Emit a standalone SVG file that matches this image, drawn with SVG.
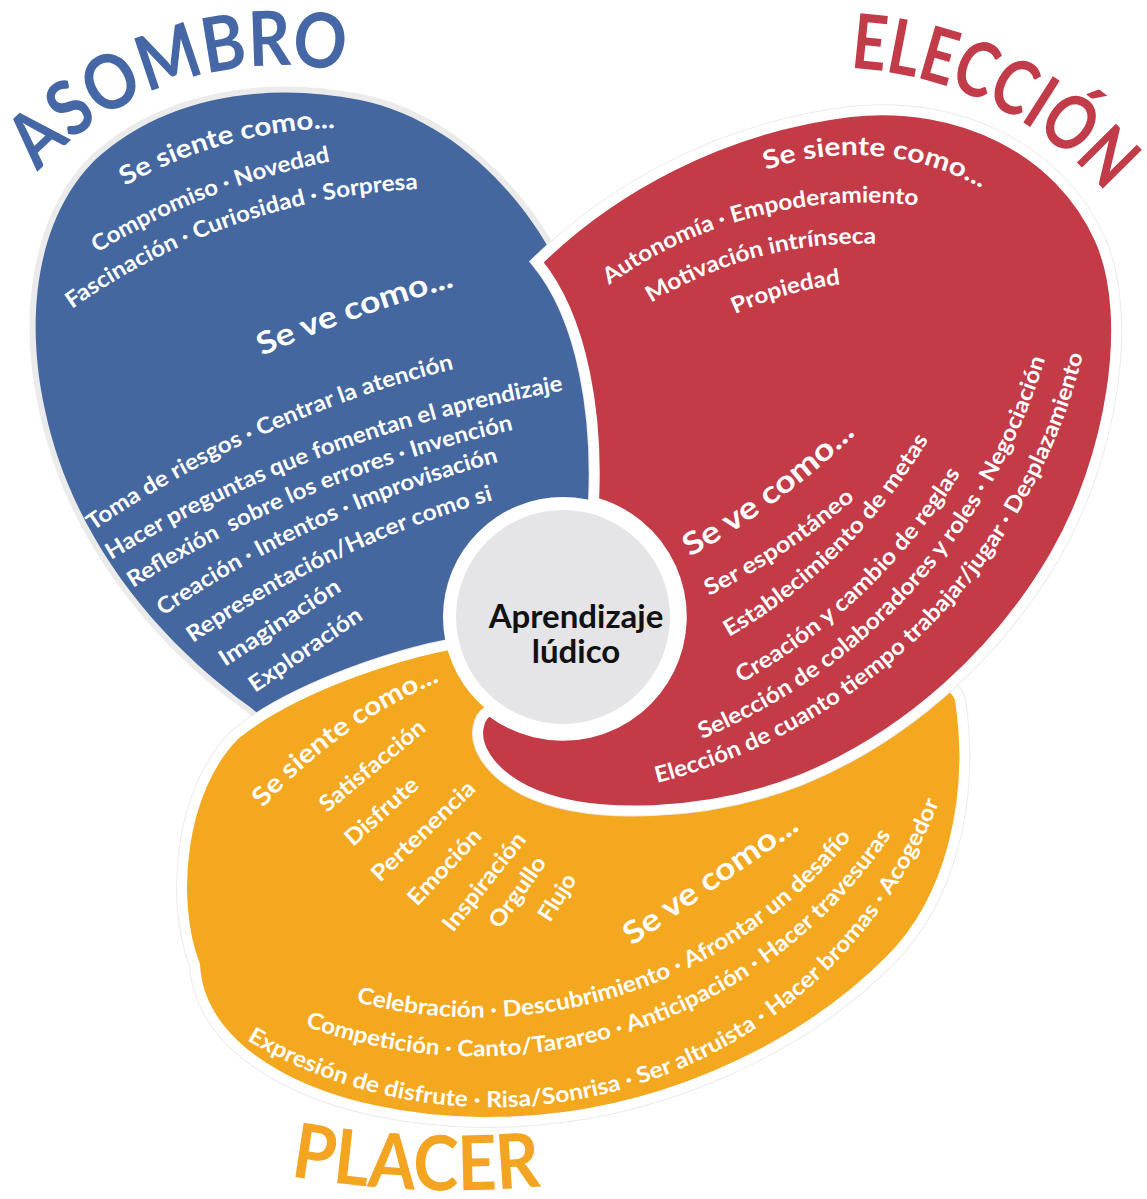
<svg xmlns="http://www.w3.org/2000/svg" width="1147" height="1199" viewBox="0 0 1147 1199">
<style>
.t{font-family:Lato,"Open Sans","DejaVu Sans",sans-serif;font-weight:700;fill:#fff}
.li{font-size:22.5px}
.hs{font-size:26px}
.hv{font-size:31px}
.ti{font-family:Lato,"Open Sans","DejaVu Sans",sans-serif;font-weight:700;font-size:76px}
.pre{white-space:pre}
.halo{fill:none;stroke:#ebebeb;stroke-width:12}
.edge{stroke:#fff;stroke-width:10;stroke-linejoin:round}
</style>
<defs>
<path id="blueShape" d="M250,707 C150,635 70,530 45,410 C25,320 35,220 95,160 C160,100 260,80 360,100 C450,118 525,195 560,270 C600,350 612,450 600,560 L460,650 L290,740 Z"/>
<path id="orangeShape" d="M480,640 C400,650 290,690 235,735 C180,790 170,900 195,965 C200,1060 330,1120 480,1122 C650,1124 800,1050 890,960 C950,900 975,800 960,700 C950,650 700,650 600,640 Z"/>
<path id="redShape" d="M537,262 C610,190 720,128 850,112 C960,100 1060,150 1100,240 C1135,320 1110,460 1055,555 C1000,650 910,735 800,780 C710,815 590,822 525,790 C490,772 472,745 480,722 C483,714 487,712 490,711 A119,119 0 1 0 594,502 C598,420 585,320 537,262 Z"/>
<path id="pAs" d="M38,172 A330,330 0 0 1 347,72"/>
<path id="pbse" d="M125,186 A450,450 0 0 1 338,128"/>
<path id="pbc" d="M97,253 A700,700 0 0 1 333,161"/>
<path id="pbf" d="M72,309 A650,650 0 0 1 421,189"/>
<path id="pbsv" d="M262,356 A1500,1500 0 0 1 457,286"/>
<path id="pb1" d="M93,531 A1100,1100 0 0 1 458,368"/>
<path id="pb2" d="M111,560 A1300,1300 0 0 1 567,390"/>
<path id="pb3" d="M133,588 A1200,1200 0 0 1 517,429"/>
<path id="pb4" d="M163,616 A1100,1100 0 0 1 502,461"/>
<path id="pb5" d="M193,643 A1000,1000 0 0 1 497,499"/>
<path id="pEl" d="M850,68 A366,366 0 0 1 1107,194"/>
<path id="prse" d="M766,170 A265,265 0 0 1 985,190"/>
<path id="pra" d="M609,285 A440,440 0 0 1 921,206"/>
<path id="prm" d="M651,303 A400,400 0 0 1 879,244"/>
<path id="prp" d="M735,314 A360,360 0 0 1 843,284"/>
<path id="prsv" d="M690,557 A800,800 0 0 0 858,432"/>
<path id="pr2" d="M709,596 A700,700 0 0 0 857,497"/>
<path id="pr3" d="M729,637 A550,550 0 0 0 930,437"/>
<path id="pr4" d="M741,683 A600,600 0 0 0 962,471"/>
<path id="pr5" d="M702,739 A600,600 0 0 0 1046,356"/>
<path id="pr6" d="M657,783 A590,590 0 0 0 1084,351"/>
<path id="pPl" d="M290,1176 A950,950 0 0 0 545,1186"/>
<path id="pose" d="M263,808 A500,500 0 0 1 443,680"/>
<path id="po1" d="M356,1002 A480,480 0 0 0 854,834"/>
<path id="po2" d="M305,1026 A500,500 0 0 0 894,831"/>
<path id="po3" d="M247,1040 A480,480 0 0 0 941,797"/>
</defs>
<rect width="1147" height="1199" fill="#fff"/>

<g id="asombro">
<use href="#blueShape" class="halo"/>
<use href="#blueShape" fill="#45679f"/>
<text class="ti" fill="#4667a5" textLength="336" lengthAdjust="spacingAndGlyphs"><textPath href="#pAs">ASOMBRO</textPath></text>
<text class="t hs" textLength="220" lengthAdjust="spacingAndGlyphs"><textPath href="#pbse">Se siente como...</textPath></text>
<text class="t li" textLength="252" lengthAdjust="spacingAndGlyphs"><textPath href="#pbc">Compromiso · Novedad</textPath></text>
<text class="t li" textLength="371" lengthAdjust="spacingAndGlyphs"><textPath href="#pbf">Fascinación · Curiosidad · Sorpresa</textPath></text>
<text class="t hv" textLength="205" lengthAdjust="spacingAndGlyphs"><textPath href="#pbsv">Se ve como...</textPath></text>
<text class="t li" textLength="398" lengthAdjust="spacingAndGlyphs"><textPath href="#pb1">Toma de riesgos · Centrar la atención</textPath></text>
<text class="t li" textLength="486" lengthAdjust="spacingAndGlyphs"><textPath href="#pb2">Hacer preguntas que fomentan el aprendizaje</textPath></text>
<text class="t li pre" textLength="414" lengthAdjust="spacingAndGlyphs"><textPath href="#pb3">Reflexión  sobre los errores · Invención</textPath></text>
<text class="t li" textLength="371" lengthAdjust="spacingAndGlyphs"><textPath href="#pb4">Creación · Intentos · Improvisación</textPath></text>
<text class="t li" textLength="334" lengthAdjust="spacingAndGlyphs"><textPath href="#pb5">Representación/Hacer como si</textPath></text>
<text class="t li" transform="translate(225 667) rotate(-33.1)" textLength="140" lengthAdjust="spacingAndGlyphs">Imaginación</text>
<text class="t li" transform="translate(255 693) rotate(-34.3)" textLength="132" lengthAdjust="spacingAndGlyphs">Exploración</text>
</g>

<g id="placer">
<use href="#orangeShape" class="halo"/>
<use href="#orangeShape" class="edge" fill="#f4a81f"/>
<text class="ti" fill="#f3a521" font-size="80" textLength="252" lengthAdjust="spacingAndGlyphs"><textPath href="#pPl">PLACER</textPath></text>
<text class="t hs" textLength="219" lengthAdjust="spacingAndGlyphs"><textPath href="#pose">Se siente como...</textPath></text>
<text class="t li" transform="translate(327 813) rotate(-39.7)" textLength="130" lengthAdjust="spacingAndGlyphs">Satisfacción</text>
<text class="t li" transform="translate(353 847) rotate(-41.8)" textLength="90" lengthAdjust="spacingAndGlyphs">Disfrute</text>
<text class="t li" transform="translate(380 883) rotate(-43.8)" textLength="134" lengthAdjust="spacingAndGlyphs">Pertenencia</text>
<text class="t li" transform="translate(417 907) rotate(-46.7)" textLength="96" lengthAdjust="spacingAndGlyphs">Emoción</text>
<text class="t li" transform="translate(453 933) rotate(-51.5)" textLength="119" lengthAdjust="spacingAndGlyphs">Inspiración</text>
<text class="t li" transform="translate(500 930) rotate(-55)" textLength="82" lengthAdjust="spacingAndGlyphs">Orgullo</text>
<text class="t li" transform="translate(550 923) rotate(-57.9)" textLength="51" lengthAdjust="spacingAndGlyphs">Flujo</text>
<text class="t hv" transform="translate(632 946) rotate(-34.7)" textLength="205" lengthAdjust="spacingAndGlyphs">Se ve como...</text>
<text class="t li" textLength="552" lengthAdjust="spacingAndGlyphs"><textPath href="#po1">Celebración · Descubrimiento · Afrontar un desafío</textPath></text>
<text class="t li" textLength="664" lengthAdjust="spacingAndGlyphs"><textPath href="#po2">Competición · Canto/Tarareo · Anticipación · Hacer travesuras</textPath></text>
<text class="t li" textLength="832" lengthAdjust="spacingAndGlyphs"><textPath href="#po3">Expresión de disfrute · Risa/Sonrisa · Ser altruista · Hacer bromas · Acogedor</textPath></text>
</g>

<g id="eleccion">
<use href="#redShape" class="halo"/>
<use href="#redShape" class="edge" fill="#c23b47"/>
<text class="ti" fill="#c23b48" textLength="292" lengthAdjust="spacingAndGlyphs"><textPath href="#pEl">ELECCIÓN</textPath></text>
<text class="t hs" textLength="223" lengthAdjust="spacingAndGlyphs"><textPath href="#prse">Se siente como...</textPath></text>
<text class="t li" textLength="326" lengthAdjust="spacingAndGlyphs"><textPath href="#pra">Autonomía · Empoderamiento</textPath></text>
<text class="t li" textLength="236" lengthAdjust="spacingAndGlyphs"><textPath href="#prm">Motivación intrínseca</textPath></text>
<text class="t li" textLength="110" lengthAdjust="spacingAndGlyphs"><textPath href="#prp">Propiedad</textPath></text>
<text class="t hv" textLength="207" lengthAdjust="spacingAndGlyphs"><textPath href="#prsv">Se ve como...</textPath></text>
<text class="t li" textLength="176" lengthAdjust="spacingAndGlyphs"><textPath href="#pr2">Ser espontáneo</textPath></text>
<text class="t li" textLength="284" lengthAdjust="spacingAndGlyphs"><textPath href="#pr3">Establecimiento de metas</textPath></text>
<text class="t li" textLength="307" lengthAdjust="spacingAndGlyphs"><textPath href="#pr4">Creación y cambio de reglas</textPath></text>
<text class="t li" textLength="529" lengthAdjust="spacingAndGlyphs"><textPath href="#pr5">Selección de colaboradores y roles · Negociación</textPath></text>
<text class="t li" textLength="634" lengthAdjust="spacingAndGlyphs"><textPath href="#pr6">Elección de cuanto tiempo trabajar/jugar · Desplazamiento</textPath></text>
</g>

<g id="centro">
<circle cx="563" cy="617" r="120" fill="#fff"/>
<circle cx="563" cy="617" r="107" fill="#e5e5e7"/>
<text x="576" y="628" text-anchor="middle" font-family="Lato,'Open Sans',sans-serif" font-weight="700" font-size="33" fill="#111">Aprendizaje</text>
<text x="576" y="663" text-anchor="middle" font-family="Lato,'Open Sans',sans-serif" font-weight="700" font-size="33" fill="#111">lúdico</text>
</g>
</svg>
